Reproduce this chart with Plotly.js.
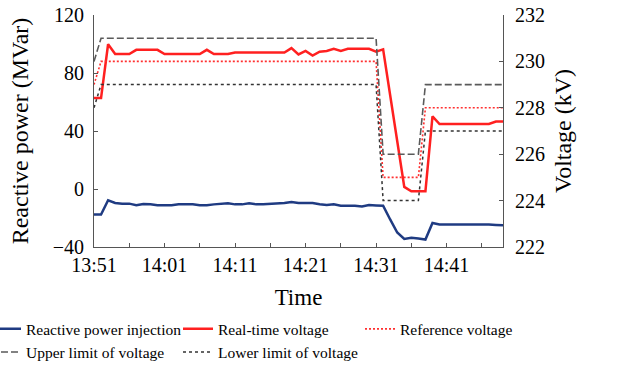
<!DOCTYPE html>
<html>
<head>
<meta charset="utf-8">
<script src="https://cdn.plot.ly/plotly-3.0.1.min.js"></script>
<style>
  html, body { margin: 0; padding: 0; background: #ffffff; }
  #chart { width: 630px; height: 372px; }
</style>
</head>
<body>
<div id="chart"></div>
<script>
// Minutes elapsed since 13:51, one sample per minute
const minutes = [
  0, 1, 2, 3, 4, 5, 6, 7, 8, 9,
  10, 11, 12, 13, 14, 15, 16, 17, 18, 19,
  20, 21, 22, 23, 24, 25, 26, 27, 28, 29,
  30, 31, 32, 33, 34, 35, 36, 37, 38, 39,
  40, 41, 42, 43, 44, 45, 46, 47, 48, 49,
  50, 51, 52, 53, 54, 55, 56, 57, 58
];

// Reactive power injected (MVar)
const reactivePower = [
  -17.6, -17.6, -7.8, -9.6, -10.1, -10.1, -11.2, -10.3, -10.6, -11.2,
  -11.2, -11.2, -10.6, -10.6, -10.6, -11.2, -11.2, -10.6, -10.2, -9.9,
  -10.6, -10.6, -9.9, -10.6, -10.5, -10.3, -9.9, -9.6, -8.9, -9.6,
  -9.6, -9.6, -10.5, -11.0, -10.6, -11.5, -11.5, -11.5, -12.1, -11.0,
  -11.3, -11.5, -21.0, -30.0, -34.4, -33.7, -34.2, -34.9, -23.4, -24.5,
  -24.5, -24.5, -24.5, -24.3, -24.3, -24.1, -24.5, -24.8, -25.0
];

// Measured bus voltage (kV)
const realTimeVoltage = [
  228.42, 228.42, 230.74, 230.32, 230.32, 230.32, 230.50, 230.50, 230.50, 230.50,
  230.32, 230.32, 230.32, 230.32, 230.32, 230.32, 230.50, 230.32, 230.32, 230.32,
  230.38, 230.38, 230.38, 230.38, 230.38, 230.38, 230.38, 230.38, 230.57, 230.30,
  230.45, 230.25, 230.42, 230.45, 230.54, 230.45, 230.54, 230.54, 230.54, 230.54,
  230.42, 230.52, 228.54, 226.57, 224.59, 224.40, 224.40, 224.40, 227.63, 227.30,
  227.30, 227.30, 227.30, 227.30, 227.30, 227.30, 227.30, 227.41, 227.41
];

// Voltage set point and its allowed band (kV)
const referenceVoltage = [
  229, 230, 230, 230, 230, 230, 230, 230, 230, 230,
  230, 230, 230, 230, 230, 230, 230, 230, 230, 230,
  230, 230, 230, 230, 230, 230, 230, 230, 230, 230,
  230, 230, 230, 230, 230, 230, 230, 230, 230, 230,
  230, 225, 225, 225, 225, 225, 225, 228, 228, 228,
  228, 228, 228, 228, 228, 228, 228, 228, 228
];
const upperLimit = [
  230, 231, 231, 231, 231, 231, 231, 231, 231, 231,
  231, 231, 231, 231, 231, 231, 231, 231, 231, 231,
  231, 231, 231, 231, 231, 231, 231, 231, 231, 231,
  231, 231, 231, 231, 231, 231, 231, 231, 231, 231,
  231, 226, 226, 226, 226, 226, 226, 229, 229, 229,
  229, 229, 229, 229, 229, 229, 229, 229, 229
];
const lowerLimit = [
  228, 229, 229, 229, 229, 229, 229, 229, 229, 229,
  229, 229, 229, 229, 229, 229, 229, 229, 229, 229,
  229, 229, 229, 229, 229, 229, 229, 229, 229, 229,
  229, 229, 229, 229, 229, 229, 229, 229, 229, 229,
  229, 224, 224, 224, 224, 224, 224, 227, 227, 227,
  227, 227, 227, 227, 227, 227, 227, 227, 227
];

// Time axis: a tick every 5 minutes, labelled every 10
const tickMinutes = [0, 5, 10, 15, 20, 25, 30, 35, 40, 45, 50, 55];
const tickLabels = ['13:51', '', '14:01', '', '14:11', '', '14:21', '', '14:31', '', '14:41', ''];

const serif = 'Liberation Serif, Times New Roman, serif';
const axisColor = '#555555';

const traces = [
  {
    name: 'Reactive power injection', x: minutes, y: reactivePower, yaxis: 'y',
    legend: 'legend', mode: 'lines', line: { color: '#1f3b82', width: 2.5 }
  },
  {
    name: 'Real-time voltage', x: minutes, y: realTimeVoltage, yaxis: 'y2',
    legend: 'legend2', mode: 'lines', line: { color: '#ff2020', width: 2.5 }
  },
  {
    name: 'Reference voltage', x: minutes, y: referenceVoltage, yaxis: 'y2',
    legend: 'legend3', mode: 'lines', line: { color: '#ff3030', width: 1.6, dash: '2px,2px' }
  },
  {
    name: 'Upper limit of voltage', x: minutes, y: upperLimit, yaxis: 'y2',
    legend: 'legend', mode: 'lines', line: { color: '#5a5a5a', width: 1.6, dash: '7px,3px' }
  },
  {
    name: 'Lower limit of voltage', x: minutes, y: lowerLimit, yaxis: 'y2',
    legend: 'legend2', mode: 'lines', line: { color: '#333333', width: 1.5, dash: '3px,3px' }
  }
];

// Plot area spans 94..503 px horizontally; legend columns are placed in paper units
const plotLeft = 94, plotWidth = 409;
function legendColumn(xPx) {
  return {
    orientation: 'v', xref: 'paper', yref: 'container',
    x: (xPx - plotLeft) / plotWidth, y: 0.1605, xanchor: 'left', yanchor: 'top',
    itemwidth: 30, tracegroupgap: 0,
    font: { family: serif, size: 15.5, color: '#000000' },
    bgcolor: 'rgba(0,0,0,0)', borderwidth: 0
  };
}

const layout = {
  width: 630, height: 372,
  paper_bgcolor: '#ffffff', plot_bgcolor: '#ffffff',
  margin: { l: 94, r: 127, t: 15, b: 125, autoexpand: false },
  font: { family: serif, size: 20, color: '#000000' },
  showlegend: true,
  legend: legendColumn(-14),
  legend2: legendColumn(178),
  legend3: legendColumn(360),
  xaxis: {
    range: [0, 58], tickmode: 'array', tickvals: tickMinutes, ticktext: tickLabels,
    ticks: 'inside', ticklen: 4, tickcolor: axisColor, showgrid: false, zeroline: false,
    showline: true, linecolor: axisColor, linewidth: 1,
    tickfont: { family: serif, size: 20 },
    title: { text: 'Time', font: { family: serif, size: 23 }, standoff: 13 }
  },
  yaxis: {
    range: [-40, 120], tickvals: [-40, 0, 40, 80, 120],
    ticks: 'inside', ticklen: 4, tickcolor: axisColor, showgrid: false, zeroline: false,
    showline: true, linecolor: axisColor, linewidth: 1,
    ticklabelstandoff: 5,
    tickfont: { family: serif, size: 20 },
    title: { text: 'Reactive power (MVar)', font: { family: serif, size: 24 }, standoff: 17 }
  },
  yaxis2: {
    range: [222, 232], tickvals: [222, 224, 226, 228, 230, 232],
    overlaying: 'y', side: 'right',
    ticks: 'inside', ticklen: 4, tickcolor: axisColor, showgrid: false, zeroline: false,
    showline: true, linecolor: axisColor, linewidth: 1,
    ticklabelstandoff: 7,
    tickfont: { family: serif, size: 20 },
    title: { text: 'Voltage (kV)', font: { family: serif, size: 24 }, standoff: 10 }
  }
};

Plotly.newPlot('chart', traces, layout, { displayModeBar: false, staticPlot: true });
</script>
</body>
</html>
